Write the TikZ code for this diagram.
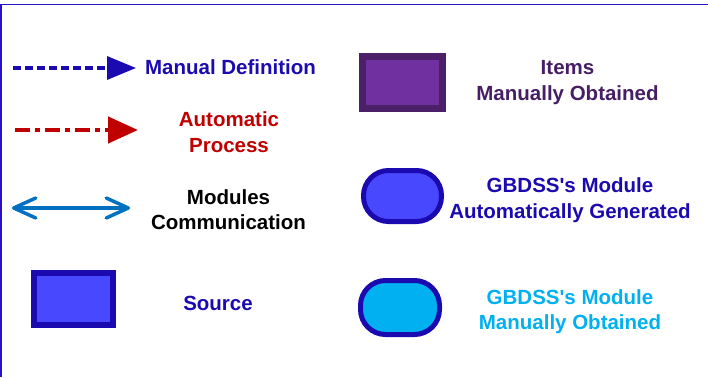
\documentclass[tikz,border=0pt]{standalone}
\usepackage{fontspec}
\setmainfont{Liberation Sans}
\usetikzlibrary{arrows.meta}

\definecolor{navy}{RGB}{26,10,176}
\definecolor{framecol}{RGB}{40,20,200}
\definecolor{srcfill}{RGB}{72,72,255}
\definecolor{itemedge}{RGB}{76,32,104}
\definecolor{itemfill}{RGB}{112,48,160}
\definecolor{itemtext}{RGB}{70,30,100}
\definecolor{autored}{RGB}{192,0,0}
\definecolor{commblue}{RGB}{0,112,192}
\definecolor{skyblue}{RGB}{0,176,240}

\tikzset{
  label/.style={font=\fontsize{20.5}{25.5}\selectfont\bfseries, align=center, inner sep=0pt},
  srcbox/.style={draw=navy, fill=srcfill, line width=6pt, inner sep=0pt,
                 minimum width=79pt, minimum height=52pt},
  itembox/.style={draw=itemedge, fill=itemfill, line width=7pt, inner sep=0pt,
                  minimum width=80pt, minimum height=52pt},
  modbox/.style={draw=navy, line width=5pt, inner sep=0pt, rounded corners=25pt},
  manualarrow/.style={draw=navy, line width=3.5pt, dash pattern=on 8pt off 4pt,
                      -{Triangle[length=29pt,width=23pt]}},
  autoarrow/.style={draw=autored, line width=4.5pt,
                    dash pattern=on 15pt off 5pt on 5pt off 5pt,
                    -{Triangle[length=30pt,width=26pt]}},
  commarrow/.style={draw=commblue, line width=3.5pt, line cap=round,
                    {Straight Barb[length=22pt,width=20pt,round]}-{Straight Barb[length=22pt,width=20pt,round]}}
}

\begin{document}
\begin{tikzpicture}[x=1pt,y=-1pt]
  \useasboundingbox (0,0) rectangle (708,377);

  % frame along the top and left edges
  \draw[framecol, line width=1.6pt] (1,377) -- (1,4.5) -- (708,4.5);

  % left column: connector kinds
  \coordinate (md-s) at (13,68);
  \coordinate (md-e) at (136,68);
  \draw[manualarrow] (md-s) -- (md-e);
  \node[label, text=navy] (md-t) at (230.5,67) {Manual Definition};

  \coordinate (ap-s) at (15,130);
  \coordinate (ap-e) at (138,130);
  \draw[autoarrow] (ap-s) -- (ap-e);
  \node[label, text=autored] (ap-t) at (229,132) {Automatic\\Process};

  \coordinate (mc-s) at (12,208);
  \coordinate (mc-e) at (130,208);
  \draw[commarrow] (mc-s) -- (mc-e);
  \node[label, text=black] (mc-t) at (228.5,209.5) {Modules\\Communication};

  \node[srcbox] (src) at (73.5,299) {};
  \node[label, text=navy] (src-t) at (218,303) {Source};

  % right column: node kinds
  \node[itembox] (items) at (402.5,82.5) {};
  \node[label, text=itemtext] (items-t) at (567.5,82.5) {Items\\Manually Obtained};

  \node[modbox, fill=srcfill, minimum width=78pt, minimum height=51pt] (auto) at (402.5,196) {};
  \node[label, text=navy] (auto-t) at (570,200) {GBDSS\textquotesingle s Module\\Automatically Generated};

  \node[modbox, fill=skyblue, minimum width=79pt, minimum height=54pt] (man) at (400,307.5) {};
  \node[label, text=skyblue] (man-t) at (570,311.5) {GBDSS\textquotesingle s Module\\Manually Obtained};
\end{tikzpicture}
\end{document}
